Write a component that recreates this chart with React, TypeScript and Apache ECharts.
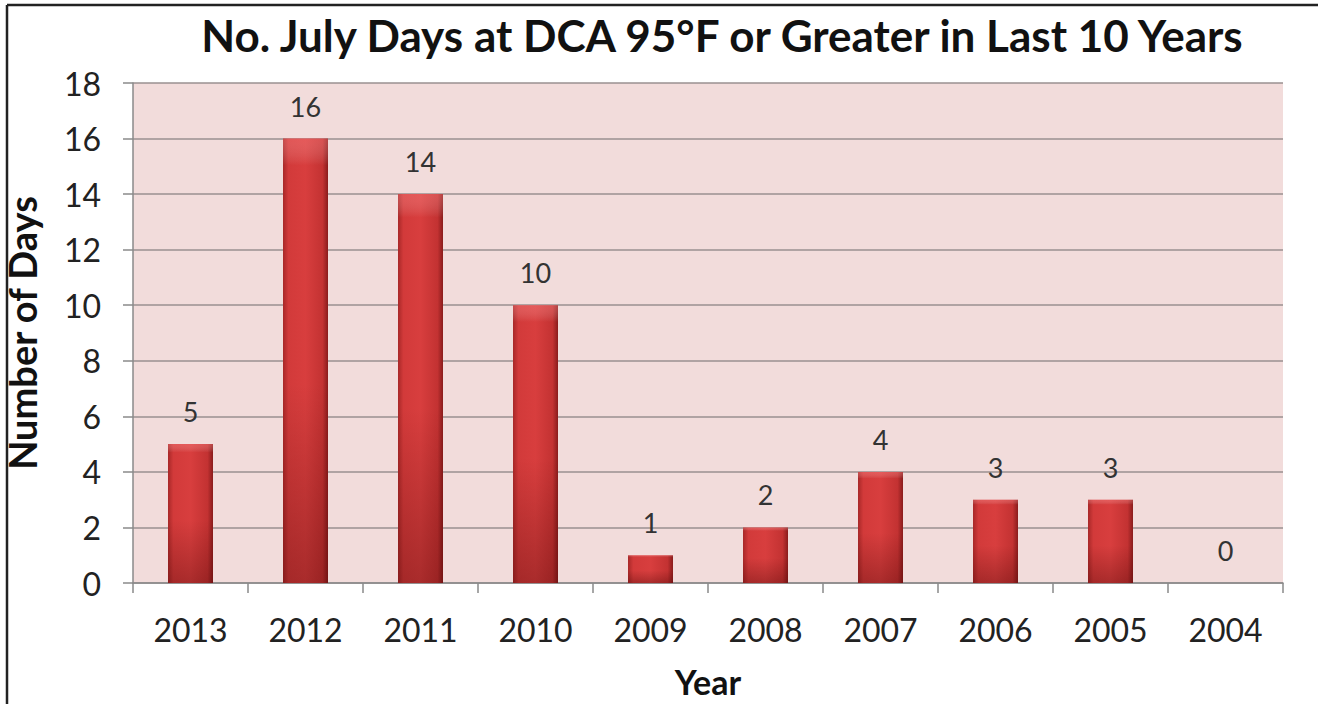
import React, { useEffect, useRef } from "react";
import * as echarts from "echarts";

const TITLE = "No. July Days at DCA 95°F or Greater in Last 10 Years";
const Y_NAME = "Number of Days";
const X_NAME = "Year";
const years = ["2013", "2012", "2011", "2010", "2009", "2008", "2007", "2006", "2005", "2004"];
const days = [5, 16, 14, 10, 1, 2, 4, 3, 3, 0];
const yMin = 0;
const yMax = 18;
const yStep = 2;

const FONT = "Lato, 'Open Sans', sans-serif";

export default function App() {
  const ref = useRef<HTMLDivElement>(null);
  useEffect(() => {
    if (!ref.current) return;
    const chart = echarts.init(ref.current, null, { renderer: "svg" });
    chart.setOption({
      animation: false,
      backgroundColor: "#ffffff",
      textStyle: { fontFamily: FONT },
      title: {
        text: TITLE,
        left: 717,
        textAlign: "center",
        top: 8,
        textStyle: { fontFamily: FONT, fontSize: 44, fontWeight: "bold", color: "#111" },
      },
      grid: {
        left: 133,
        right: 35,
        top: 83,
        bottom: 121,
        show: true,
        backgroundColor: "#f2dcdb",
        borderWidth: 0,
        outerBoundsMode: "none",
        containLabel: false,
      },
      xAxis: {
        type: "category",
        data: years,
        name: X_NAME,
        nameLocation: "middle",
        nameGap: 83,
        nameTextStyle: { fontFamily: FONT, fontSize: 34, lineHeight: 30, fontWeight: "bold", color: "#111" },
        axisLine: { show: true, lineStyle: { color: "#8a8a8a", width: 1.5 } },
        axisTick: { show: true, alignWithLabel: false, length: 10, lineStyle: { color: "#8a8a8a", width: 1.5 } },
        axisLabel: { fontFamily: FONT, fontSize: 32, color: "#222", margin: 30 },
      },
      yAxis: {
        type: "value",
        min: yMin,
        max: yMax,
        interval: yStep,
        name: Y_NAME,
        nameLocation: "middle",
        nameGap: 92,
        nameRotate: 90,
        nameTextStyle: { fontFamily: FONT, fontSize: 38, fontWeight: "bold", color: "#111" },
        axisLine: { show: true, lineStyle: { color: "#8a8a8a", width: 1.5 } },
        axisTick: { show: true, length: 10, lineStyle: { color: "#8a8a8a", width: 1.5 } },
        axisLabel: { fontFamily: FONT, fontSize: 32, color: "#222", margin: 32 },
        splitLine: { show: true, lineStyle: { color: "#9a9090", width: 1.5 } },
      },
      series: [
        {
          type: "bar",
          data: days,
          barWidth: 45,
          itemStyle: {
            color: new echarts.graphic.LinearGradient(0, 0, 1, 0, [
              { offset: 0, color: "#a82828" },
              { offset: 0.12, color: "#d23a3a" },
              { offset: 0.5, color: "#d83e3e" },
              { offset: 0.88, color: "#c33232" },
              { offset: 1, color: "#8a1c1c" },
            ]),
            borderWidth: 0,
          },
          label: {
            show: true,
            position: "top",
            distance: 19,
            fontFamily: FONT,
            fontSize: 27,
            color: "#333",
          },
        },
        {
          type: "bar",
          data: days,
          barWidth: 45,
          barGap: "-100%",
          silent: true,
          itemStyle: {
            borderWidth: 0,
            color: new echarts.graphic.LinearGradient(0, 0, 0, 1, [
              { offset: 0, color: "rgba(255,140,140,0.35)" },
              { offset: 0.06, color: "rgba(255,255,255,0)" },
              { offset: 0.55, color: "rgba(60,0,0,0)" },
              { offset: 1, color: "rgba(60,0,0,0.3)" },
            ]),
          },
        },
      ],
      graphic: [
        { type: "line", shape: { x1: 7, y1: 5, x2: 1318, y2: 5 }, style: { stroke: "#222", lineWidth: 2.5 } },
        { type: "line", shape: { x1: 7, y1: 5, x2: 7, y2: 704 }, style: { stroke: "#222", lineWidth: 2.5 } },
      ],
    });
    return () => chart.dispose();
  }, []);
  return <div ref={ref} style={{ position: "fixed", left: 0, top: 0, width: 1318, height: 704 }} />;
}
